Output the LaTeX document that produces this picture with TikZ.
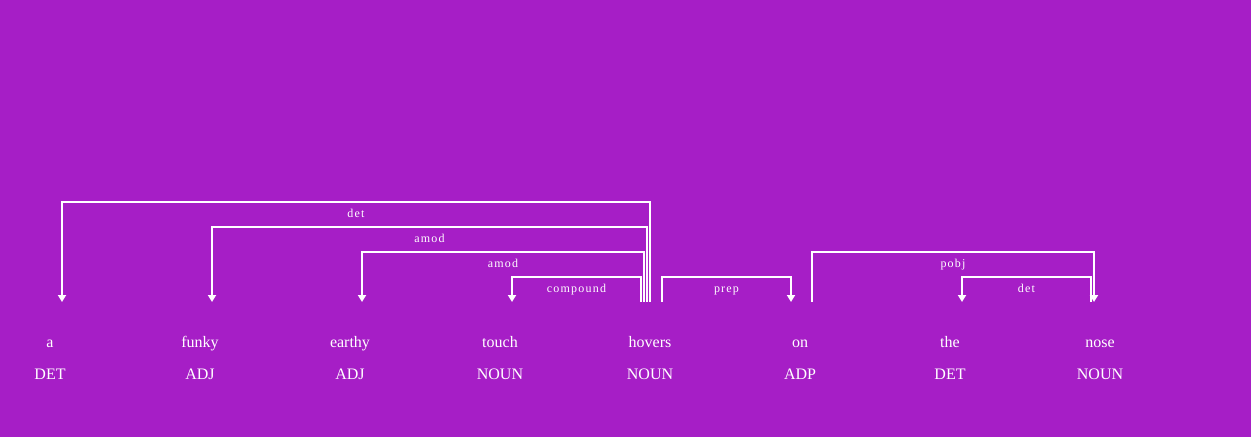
\documentclass[tikz,border=0pt]{standalone}
\usepackage{fontspec}
\setmainfont{Liberation Serif}
\newfontfamily\arclabelfont[LetterSpace=10]{Liberation Serif}
\usetikzlibrary{arrows.meta}
\definecolor{bgpurple}{RGB}{166,30,198}
\tikzset{
  word/.style={text=white, font=\fontsize{16}{18}\selectfont, anchor=base, inner sep=0pt},
  tag/.style={word},
  arc/.style={white, line width=2pt, -{Triangle[width=8pt,length=7pt]}},
  lbl/.style={text=white, font=\arclabelfont\fontsize{12}{14}\selectfont, anchor=base, inner sep=0pt, yshift=-15.5pt}
}
\begin{document}
\begin{tikzpicture}[x=1pt,y=-1pt]
                \def\sp{150};
                \def\lvl{25};
                \fill[bgpurple] (0,0) rectangle (1251,437);
                \foreach \w/\t [count=\i] in {a/DET,funky/ADJ,earthy/ADJ,touch/NOUN,hovers/NOUN,on/ADP,the/DET,nose/NOUN}{
                    \node[word] (w\i) at (\i * \sp - 100, 347) {\w};
                    \node[tag] (t\i) at (\i * \sp - 100, 379) {\t};
                    \coordinate (p\i) at (\i * \sp - 100, 302);}
                \draw[arc] (p5) -- ++(0, -4 * \lvl) -| node[lbl, pos=0.25] {det} ([xshift=12pt]p1);
                \draw[arc] ([xshift=-3pt]p5) -- ++(0, -3 * \lvl) -| node[lbl, pos=0.25] {amod} ([xshift=12pt]p2);
                \draw[arc] ([xshift=-6pt]p5) -- ++(0, -2 * \lvl) -| node[lbl, pos=0.25] {amod} ([xshift=12pt]p3);
                \draw[arc] ([xshift=-9pt]p5) -- ++(0, -\lvl) -| node[lbl, pos=0.25] {compound} ([xshift=12pt]p4);
                \draw[arc] ([xshift=12pt]p5) -- ++(0, -\lvl) -| node[lbl, pos=0.25] {prep} ([xshift=-9pt]p6);
                \draw[arc] ([xshift=12pt]p6) -- ++(0, -2 * \lvl) -| node[lbl, pos=0.25] {pobj} ([xshift=-6pt]p8);
                \draw[arc] ([xshift=-9pt]p8) -- ++(0, -\lvl) -| node[lbl, pos=0.25] {det} ([xshift=12pt]p7);
            \end{tikzpicture}
\end{document}
